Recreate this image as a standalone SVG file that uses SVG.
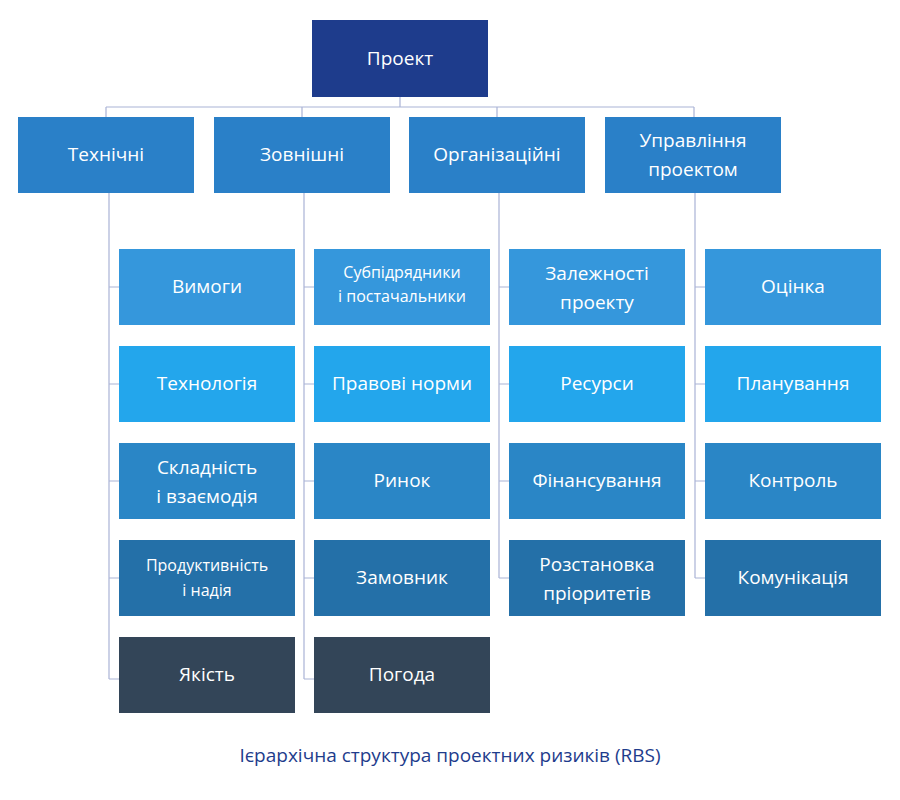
<svg xmlns="http://www.w3.org/2000/svg" width="900" height="800" viewBox="0 0 900 800">
<style>
text{font-family:"Open Sans","Noto Sans",sans-serif;fill:#fff;text-anchor:middle;font-size:19px}
.s{font-size:16px}
.l{fill:none;stroke:#aab3d6;stroke-width:1.2}
.top{fill:#1e3c8c}.l2{fill:#2a80c8}.r1{fill:#3597dc}.r2{fill:#23a6ec}.r3{fill:#2a86c6}.r4{fill:#2470a8}.r5{fill:#334558}
</style>
<rect width="900" height="800" fill="#fff"/>
<g id="connectors" class="l">
<path d="M400 97V107M106 107H694M106 107V117M302 107V117M497 107V117M694 107V117"/>
<path d="M109 193V679M109 287H119M109 384H119M109 481H119M109 578H119M109 679H119"/>
<path d="M304 193V679M304 287H314M304 384H314M304 481H314M304 578H314M304 679H314"/>
<path d="M499 193V578M499 287H509M499 384H509M499 481H509M499 578H509"/>
<path d="M695 193V578M695 287H705M695 384H705M695 481H705M695 578H705"/>
</g>
<g id="n0"><rect class="top" x="312" y="20" width="176" height="77"/><text x="400" y="65">Проект</text></g>
<g id="a1"><rect class="l2" x="18" y="117" width="176" height="76"/><text x="106" y="161">Технічні</text></g>
<g id="a2"><rect class="l2" x="214" y="117" width="176" height="76"/><text x="302" y="161">Зовнішні</text></g>
<g id="a3"><rect class="l2" x="409" y="117" width="176" height="76"/><text x="497" y="161">Організаційні</text></g>
<g id="a4"><rect class="l2" x="605" y="117" width="176" height="76"/><text x="693" y="147">Управління</text><text x="693" y="176">проектом</text></g>

<g id="b1"><rect class="r1" x="119" y="249" width="176" height="76"/><text x="207" y="293">Вимоги</text></g>
<g id="b2"><rect class="r2" x="119" y="346" width="176" height="76"/><text x="207" y="390">Технологія</text></g>
<g id="b3"><rect class="r3" x="119" y="443" width="176" height="76"/><text x="207" y="474">Складність</text><text x="207" y="503">і взаємодія</text></g>
<g id="b4"><rect class="r4" x="119" y="540" width="176" height="76"/><text class="s" x="207" y="571">Продуктивність</text><text class="s" x="207" y="596">і надія</text></g>
<g id="b5"><rect class="r5" x="119" y="637" width="176" height="76"/><text x="207" y="681">Якість</text></g>

<g id="c1"><rect class="r1" x="314" y="249" width="176" height="76"/><text class="s" x="402" y="278">Субпідрядники</text><text class="s" x="402" y="302">і постачальники</text></g>
<g id="c2"><rect class="r2" x="314" y="346" width="176" height="76"/><text x="402" y="390">Правові норми</text></g>
<g id="c3"><rect class="r3" x="314" y="443" width="176" height="76"/><text x="402" y="487">Ринок</text></g>
<g id="c4"><rect class="r4" x="314" y="540" width="176" height="76"/><text x="402" y="584">Замовник</text></g>
<g id="c5"><rect class="r5" x="314" y="637" width="176" height="76"/><text x="402" y="681">Погода</text></g>

<g id="d1"><rect class="r1" x="509" y="249" width="176" height="76"/><text x="597" y="280">Залежності</text><text x="597" y="309">проекту</text></g>
<g id="d2"><rect class="r2" x="509" y="346" width="176" height="76"/><text x="597" y="390">Ресурси</text></g>
<g id="d3"><rect class="r3" x="509" y="443" width="176" height="76"/><text x="597" y="487">Фінансування</text></g>
<g id="d4"><rect class="r4" x="509" y="540" width="176" height="76"/><text x="597" y="571">Розстановка</text><text x="597" y="600">пріоритетів</text></g>

<g id="e1"><rect class="r1" x="705" y="249" width="176" height="76"/><text x="793" y="293">Оцінка</text></g>
<g id="e2"><rect class="r2" x="705" y="346" width="176" height="76"/><text x="793" y="390">Планування</text></g>
<g id="e3"><rect class="r3" x="705" y="443" width="176" height="76"/><text x="793" y="487">Контроль</text></g>
<g id="e4"><rect class="r4" x="705" y="540" width="176" height="76"/><text x="793" y="584">Комунікація</text></g>

<text x="450" y="762" style="fill:#1e3c8c;font-size:19px">Ієрархічна структура проектних ризиків (RBS)</text>
</svg>
